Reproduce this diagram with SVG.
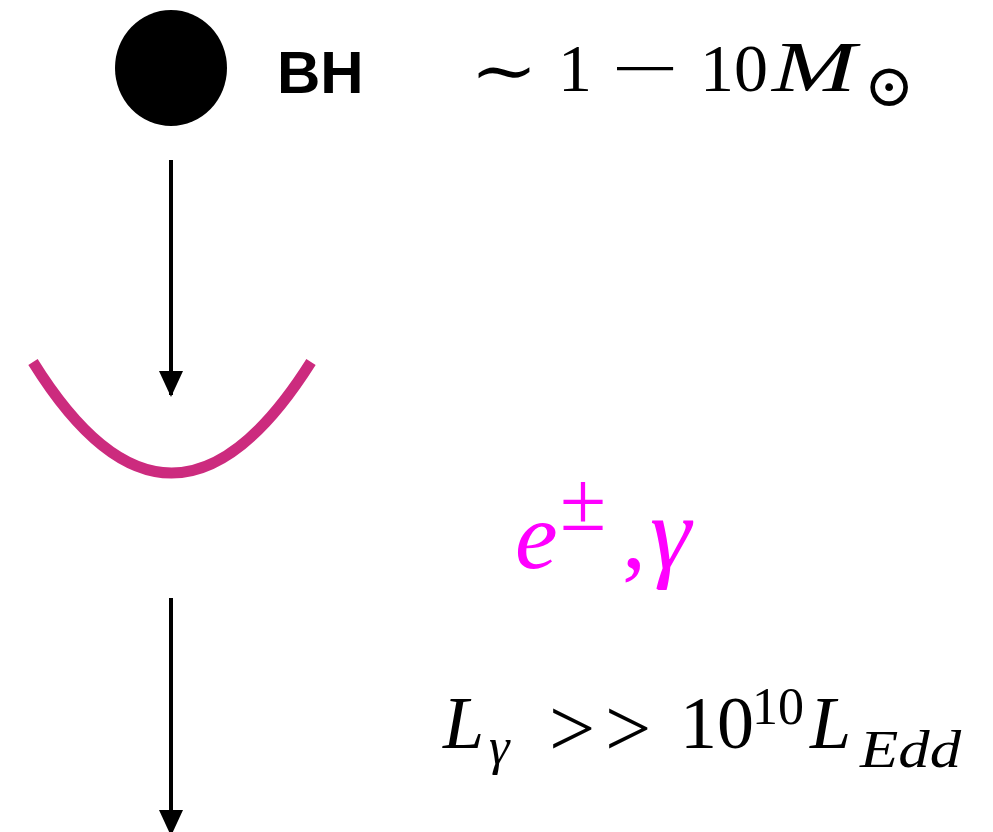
<svg xmlns="http://www.w3.org/2000/svg" width="993" height="832" viewBox="0 0 993 832">
<defs>
<style>
.m{font-family:"Liberation Serif","DejaVu Serif",serif;fill:#000}
.i{font-style:italic}
.mg{fill:#FF00FF}
.arr{stroke:#000;stroke-width:4;fill:none}
</style>
<marker id="ah" viewBox="0 0 26 24" refX="24" refY="12" markerWidth="26" markerHeight="24" markerUnits="userSpaceOnUse" orient="auto">
<path d="M0,0 L26,12 L0,24 Z" fill="#000"/>
</marker>
</defs>
<rect width="993" height="832" fill="#fff"/>
<g id="bh">
<ellipse cx="171" cy="68" rx="56" ry="58" fill="#000"/>
<text x="277" y="93" font-family="Liberation Sans,Arial,sans-serif" font-weight="bold" font-size="60">BH</text>
</g>
<g id="mass">
<text class="m" x="470" y="94" font-size="68" textLength="68" lengthAdjust="spacingAndGlyphs">∼</text>
<text class="m" x="558" y="91" font-size="68">1</text>
<text class="m" x="611" y="90" font-size="64" textLength="68" lengthAdjust="spacingAndGlyphs">−</text>
<text class="m" x="700" y="91" font-size="68">10</text>
<text class="m i" x="772" y="91" font-size="72" textLength="84" lengthAdjust="spacingAndGlyphs">M</text>
<text class="m" x="864" y="106" font-size="60">⊙</text>
</g>
<g id="disk">
<path d="M33,362 Q171,584 311,362" fill="none" stroke="#CC2B7E" stroke-width="11"/>
</g>
<g id="particles">
<text class="m i mg" x="515" y="568" font-size="96">e</text>
<text class="m mg" x="560" y="530" font-size="84">±</text>
<text class="m mg" x="622" y="568" font-size="96">,</text>
<text class="m i mg" x="650" y="568" font-size="104">γ</text>
</g>
<g id="lum">
<text class="m i" x="443" y="748" font-size="74">L</text>
<text class="m i" x="489" y="764" font-size="52">γ</text>
<text class="m" x="549" y="756" font-size="82">&gt;</text>
<text class="m" x="605" y="756" font-size="82">&gt;</text>
<text class="m" x="680" y="748" font-size="74">10</text>
<text class="m" x="752" y="724" font-size="52">10</text>
<text class="m i" x="810" y="748" font-size="74">L</text>
<text class="m i" x="860" y="767" font-size="52" textLength="101" lengthAdjust="spacingAndGlyphs">Edd</text>
</g>
<g id="connectors">
<line class="arr" x1="171" y1="160" x2="171" y2="395" marker-end="url(#ah)"/>
<line class="arr" x1="171" y1="598" x2="171" y2="834" marker-end="url(#ah)"/>
</g>
</svg>
